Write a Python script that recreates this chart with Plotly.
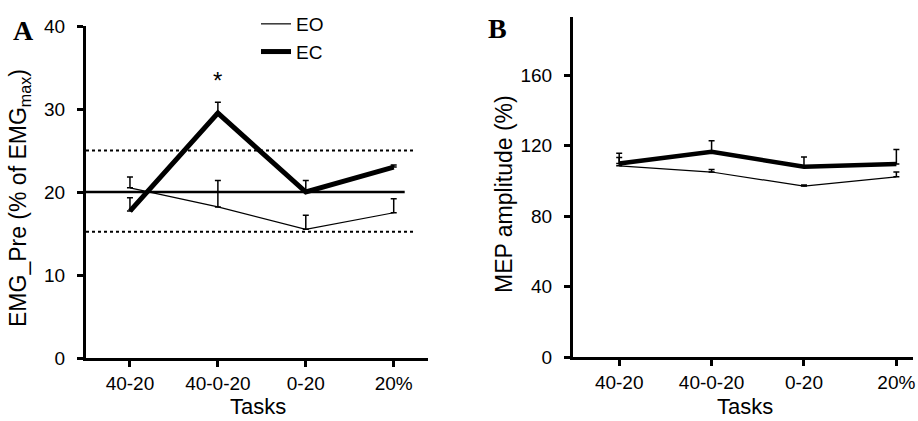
import plotly.graph_objects as go

W, H = 918, 421

tasks = ["40-20", "40-0-20", "0-20", "20%"]

# Panel A: EMG_Pre (% of EMGmax)
emg_eo_mean = [20.5, 18.2, 15.5, 17.5]
emg_eo_err = [1.3, 3.2, 1.7, 1.7]
emg_ec_mean = [17.7, 29.5, 20.0, 23.0]
emg_ec_err = [1.6, 1.3, 1.4, 0.25]
emg_ref_mean = 20.0
emg_ref_upper = 25.0
emg_ref_lower = 15.2

# Panel B: MEP amplitude (%)
mep_eo_mean = [108.5, 105.0, 97.0, 102.3]
mep_eo_err = [4.8, 1.5, 0.6, 2.7]
mep_ec_mean = [109.8, 116.5, 108.0, 109.5]
mep_ec_err = [5.8, 6.2, 5.6, 8.3]

emg_ticks = [0, 10, 20, 30, 40]
mep_ticks = [0, 40, 80, 120, 160]

FONT = "Liberation Sans, Arial, sans-serif"
SERIF = "Liberation Serif, Times New Roman, serif"

def px_x(p):
    return p / W

def px_y(p):
    return 1 - p / H

fig = go.Figure()

def add_series(x, y, err, width, name, xa, ya, show):
    fig.add_trace(go.Scatter(
        x=x, y=y, mode="lines", name=name, showlegend=show,
        line=dict(color="black", width=width),
        error_y=dict(type="data", symmetric=False, array=err,
                     arrayminus=[0] * len(err), color="black",
                     thickness=1.5, width=3),
        xaxis=xa, yaxis=ya,
    ))

add_series(tasks, emg_eo_mean, emg_eo_err, 1.2, "EO", "x", "y", True)
add_series(tasks, emg_ec_mean, emg_ec_err, 5, "EC", "x", "y", True)
add_series(tasks, mep_eo_mean, mep_eo_err, 1.2, "EO", "x2", "y2", False)
add_series(tasks, mep_ec_mean, mep_ec_err, 4.5, "EC", "x2", "y2", False)

axis_common = dict(
    showline=True, linecolor="black", linewidth=3,
    ticks="outside", ticklen=6, tickwidth=3, tickcolor="black",
    showgrid=False, zeroline=False, automargin=False,
    tickfont=dict(family=FONT, size=19, color="black"),
)

fig.update_layout(
    width=W, height=H, autosize=False,
    margin=dict(l=0, r=0, t=0, b=0, pad=0, autoexpand=False),
    paper_bgcolor="white", plot_bgcolor="white",
    font=dict(family=FONT, color="black"),
    xaxis=dict(domain=[px_x(86), px_x(428)], anchor="y",
               type="category", range=[-0.5, 3.39], **axis_common),
    yaxis=dict(domain=[px_y(358), px_y(26)], anchor="x",
               range=[0, 40], tickvals=emg_ticks,
               ticklabelstandoff=8, **axis_common),
    xaxis2=dict(domain=[px_x(573), px_x(913)], anchor="y2",
                type="category", range=[-0.5, 3.18], **axis_common),
    yaxis2=dict(domain=[px_y(357), px_y(17)], anchor="x2",
                range=[0, 193], tickvals=mep_ticks,
                ticklabelstandoff=8, **axis_common),
    legend=dict(x=px_x(256), y=px_y(5), xanchor="left", yanchor="top",
                font=dict(family=FONT, size=19, color="black"),
                bgcolor="rgba(0,0,0,0)", tracegroupgap=0, itemwidth=30),
    showlegend=True,
)

# reference lines in panel A
fig.add_shape(type="line", xref="x", yref="y", x0=-0.5, x1=3.125,
              y0=emg_ref_mean, y1=emg_ref_mean,
              line=dict(color="black", width=2.5))
for v in (emg_ref_upper, emg_ref_lower):
    fig.add_shape(type="line", xref="x", yref="y", x0=-0.5, x1=3.24,
                  y0=v, y1=v, line=dict(color="black", width=2, dash="dot"))

# significance marker
fig.add_annotation(x=tasks[1], y=33.4, xref="x", yref="y", text="*",
                   showarrow=False, font=dict(family=FONT, size=24, color="black"))

def label(x, y, text, size, angle=0, family=FONT):
    fig.add_annotation(x=px_x(x), y=px_y(y), xref="paper", yref="paper",
                       xanchor="center", yanchor="middle",
                       text=text, textangle=angle, showarrow=False,
                       font=dict(family=family, size=size, color="black"))

label(258, 406, "Tasks", 22)
label(745, 406, "Tasks", 22)
label(19, 198, "EMG_Pre (% of EMG<sub>max</sub>)", 23, -90)
label(504, 194, "MEP amplitude (%)", 23, -90)
label(23, 30, "<b>A</b>", 28, family=SERIF)
label(497, 28, "<b>B</b>", 28, family=SERIF)

fig.write_html("out.html",
               config={"displayModeBar": False},
               post_script="document.body.style.margin='0';document.body.style.overflow='hidden';")
